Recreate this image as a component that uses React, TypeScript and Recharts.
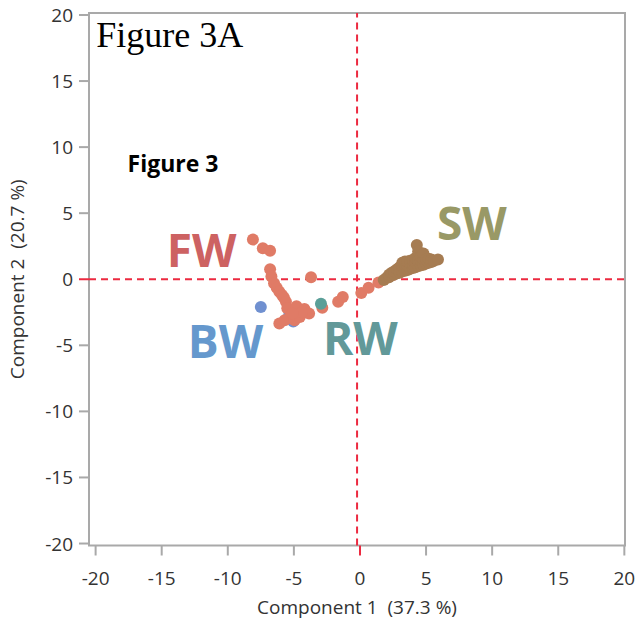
import React from 'react';
import {
  ScatterChart,
  Scatter,
  XAxis,
  YAxis,
  ReferenceLine,
  ReferenceArea,
  ReferenceDot,
} from 'recharts';

document.body.style.margin = '0';

// PCA scores: [component 1, component 2]
const fwScores: [number, number][] = [
  [-8.1, 3.0], [-7.35, 2.35], [-6.8, 2.15], [-6.8, 0.75], [-6.7, 0.2],
  [-6.5, -0.3], [-6.3, -0.65], [-6.1, -0.95], [-5.9, -1.2], [-5.75, -1.4],
  [-5.6, -1.7], [-5.5, -2.2], [-5.3, -2.9], [-5.7, -3.1], [-6.1, -3.35],
  [-4.95, -3.1], [-4.8, -2.05], [-4.55, -2.85], [-4.2, -2.25], [-3.85, -2.6],
  [-4.4, -2.5], [-5.1, -2.6], [-3.7, 0.15], [-2.85, -2.15], [-1.65, -1.7],
  [-1.3, -1.35], [0.1, -1.05], [0.65, -0.65], [1.4, -0.25],
];

const bwScores: [number, number][] = [
  [-7.5, -2.1], [-5.05, -3.2], [-5.35, -2.7],
];

const rwScores: [number, number][] = [[-2.95, -1.85]];

const swScores: [number, number][] = [
  [1.8, -0.05], [2.0, 0.1], [2.2, 0.15], [2.2, 0.35], [2.4, 0.3], [2.4, 0.5],
  [2.6, 0.35], [2.6, 0.6], [2.8, 0.45], [2.8, 0.75], [3.0, 0.5], [3.0, 0.9],
  [3.2, 0.6], [3.2, 1.0], [3.2, 1.25], [3.4, 0.65], [3.4, 1.1], [3.4, 1.35],
  [3.6, 0.7], [3.6, 1.0], [3.6, 1.35], [3.8, 0.8], [3.8, 1.2], [3.8, 1.4],
  [4.0, 0.85], [4.0, 1.15], [4.0, 1.45], [4.2, 0.9], [4.2, 1.3], [4.2, 1.6],
  [4.3, 2.6], [4.4, 1.0], [4.4, 1.4], [4.4, 2.1], [4.6, 1.05], [4.6, 1.4],
  [4.6, 1.7], [4.8, 1.1], [4.8, 1.5], [4.8, 1.95], [5.0, 1.2], [5.0, 1.5],
  [5.2, 1.25], [5.2, 1.55], [5.4, 1.3], [5.4, 1.5], [5.6, 1.4], [5.9, 1.5],
];

const axisTicks = [-20, -15, -10, -5, 0, 5, 10, 15, 20];

const groupLabels = [
  { text: 'FW', x: -14.62, y: 0.91, color: '#cd6262' },
  { text: 'BW', x: -13.03, y: -5.98, color: '#6598cd' },
  { text: 'RW', x: -2.8, y: -5.76, color: '#629999' },
  { text: 'SW', x: 5.83, y: 2.95, color: '#999966' },
];

const X_DOMAIN: [number, number] = [-20.5, 20.05];
const Y_DOMAIN: [number, number] = [-20.15, 20.15];

const FONT = '"Open Sans", "Noto Sans", sans-serif';
const TEXT = '#333333';
const FRAME = '#a9a9a9';
const ZERO = '#ec2a40';

const toPoints = (rows: [number, number][]) => rows.map(([x, y]) => ({ x, y }));

const dot = (color: string) => (props: any) => (
  <circle cx={props.cx} cy={props.cy} r={6} fill={color} />
);

const XTick = ({ x, y, payload }: any) => {
  const zero = payload.value === 0;
  return (
    <g>
      <line x1={x} x2={x} y1={y} y2={y + 10} stroke={zero ? ZERO : FRAME} strokeWidth={2} />
      <text x={x} y={y + 39} textAnchor="middle" fontSize={19} fill={TEXT} fontFamily={FONT}>
        {payload.value}
      </text>
    </g>
  );
};

const YTick = ({ x, y, payload }: any) => {
  const zero = payload.value === 0;
  return (
    <g>
      <line x1={x - 10} x2={x} y1={y} y2={y} stroke={zero ? ZERO : FRAME} strokeWidth={2} />
      <text x={x - 16} y={y + 7} textAnchor="end" fontSize={19} fill={TEXT} fontFamily={FONT}>
        {payload.value}
      </text>
    </g>
  );
};

const XLabel = ({ viewBox }: any) => (
  <text
    x={viewBox.x + viewBox.width / 2}
    y={614}
    textAnchor="middle"
    fontSize={19}
    fill={TEXT}
    fontFamily={FONT}
    style={{ whiteSpace: 'pre' }}
  >
    {'Component 1  (37.3 %)'}
  </text>
);

const YLabel = ({ viewBox }: any) => {
  const cy = viewBox.y + viewBox.height / 2;
  return (
    <text
      x={24}
      y={cy}
      transform={`rotate(-90, 24, ${cy})`}
      textAnchor="middle"
      fontSize={19}
      fill={TEXT}
      fontFamily={FONT}
      style={{ whiteSpace: 'pre' }}
    >
      {'Component 2  (20.7 %)'}
    </text>
  );
};

const textShape = (text: string, opts: any) => (props: any) => (
  <text x={props.cx} y={props.cy} {...opts}>
    {text}
  </text>
);

export default function App() {
  return (
    <div style={{ width: 638, height: 626, background: '#fff' }}>
      <ScatterChart width={638} height={626} margin={{ top: 13, right: 13, left: 0, bottom: 0 }}>
        <XAxis
          type="number"
          dataKey="x"
          domain={X_DOMAIN}
          ticks={axisTicks}
          allowDataOverflow
          axisLine={false}
          tickLine={false}
          tickSize={0}
          tickMargin={0}
          height={80.5}
          tick={<XTick />}
          label={<XLabel />}
        />
        <YAxis
          type="number"
          dataKey="y"
          domain={Y_DOMAIN}
          ticks={axisTicks}
          allowDataOverflow
          axisLine={false}
          tickLine={false}
          tickSize={0}
          tickMargin={0}
          width={89}
          tick={<YTick />}
          label={<YLabel />}
        />
        <ReferenceArea
          x1={X_DOMAIN[0]}
          x2={X_DOMAIN[1]}
          y1={Y_DOMAIN[0]}
          y2={Y_DOMAIN[1]}
          fill="none"
          stroke={FRAME}
          strokeWidth={2}
          ifOverflow="visible"
        />
        <ReferenceLine y={0} stroke={ZERO} strokeWidth={2} strokeDasharray="7 5" />
        <ReferenceLine x={-0.22} stroke={ZERO} strokeWidth={2} strokeDasharray="7 5" />
        <Scatter data={toPoints(bwScores)} shape={dot('#7090d0')} isAnimationActive={false} />
        <Scatter data={toPoints(fwScores)} shape={dot('#e07b66')} isAnimationActive={false} />
        <Scatter data={toPoints(rwScores)} shape={dot('#5a9f98')} isAnimationActive={false} />
        <Scatter data={toPoints(swScores)} shape={dot('#a67c52')} isAnimationActive={false} />
        {groupLabels.map((g) => (
          <ReferenceDot
            key={g.text}
            x={g.x}
            y={g.y}
            r={0}
            shape={textShape(g.text, {
              fontSize: 46,
              fontWeight: 700,
              fill: g.color,
              fontFamily: FONT,
            })}
          />
        ))}
        <ReferenceDot
          x={-19.95}
          y={17.58}
          r={0}
          shape={textShape('Figure 3A', {
            fontSize: 36,
            fill: '#000',
            fontFamily: '"Liberation Serif", "DejaVu Serif", serif',
          })}
        />
        <ReferenceDot
          x={-17.58}
          y={8.1}
          r={0}
          shape={textShape('Figure 3', {
            fontSize: 23,
            fontWeight: 700,
            fill: '#000',
            fontFamily: FONT,
          })}
        />
      </ScatterChart>
    </div>
  );
}
